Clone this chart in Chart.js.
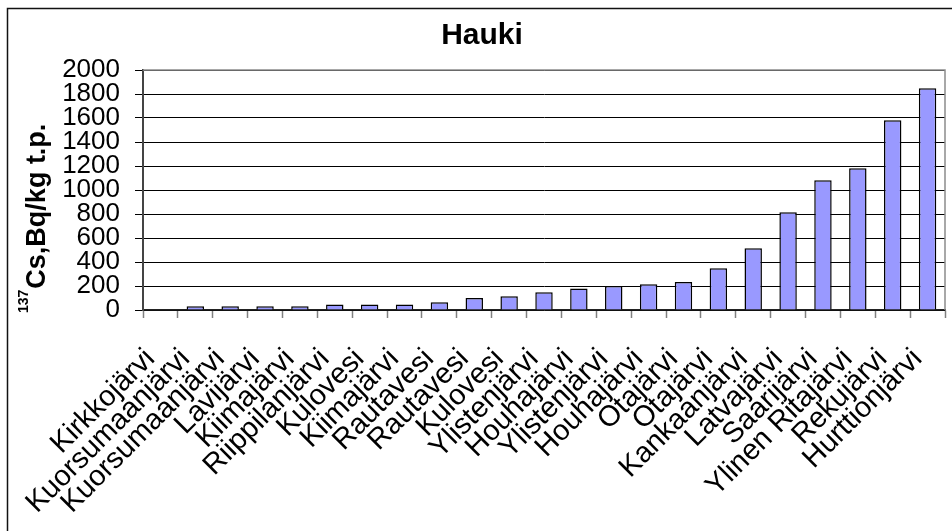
<!DOCTYPE html>
<html>
<head>
<meta charset="utf-8">
<title>Hauki</title>
<script src="https://cdn.jsdelivr.net/npm/chart.js@4/dist/chart.umd.min.js"></script>
<style>
  html, body { margin: 0; padding: 0; background: #fff; overflow: hidden; }
  canvas { display: block; }
</style>
</head>
<body>
<canvas id="haukiChart" width="952" height="531"></canvas>
<script>
// Lakes and 137Cs in pike (Bq/kg dry weight)
const lakes = [
  'Kirkkojärvi', 'Kuorsumaanjärvi', 'Kuorsumaanjärvi', 'Lavijärvi', 'Kiimajärvi',
  'Riippilanjärvi', 'Kulovesi', 'Kiimajärvi', 'Rautavesi', 'Rautavesi', 'Kulovesi',
  'Ylistenjärvi', 'Houhajärvi', 'Ylistenjärvi', 'Houhajärvi', 'Otajärvi', 'Otajärvi',
  'Kankaanjärvi', 'Latvajärvi', 'Saarijärvi', 'Ylinen Ritajärvi', 'Rekujärvi', 'Hurttionjärvi'
];
const cs137 = [
  0, 32, 32, 32, 32,
  45, 45, 45, 65, 100, 115,
  147, 180, 200, 214, 233, 347,
  514, 814, 1081, 1181, 1581, 1847
];
const yMin = 0;
const yMax = 2000;
const yStep = 200;

const FONT = "'Liberation Sans', Arial, sans-serif";

// outer frame + grey plot border
const framePlugin = {
  id: 'frame',
  beforeDatasetsDraw(chart) {
    const { ctx, chartArea: a } = chart;
    ctx.save();
    ctx.strokeStyle = '#8c8c8c';
    ctx.lineWidth = 1.5;
    ctx.beginPath();
    ctx.moveTo(a.left, a.top);
    ctx.lineTo(a.right, a.top);
    ctx.lineTo(a.right, a.bottom);
    ctx.stroke();
    ctx.restore();
  },
  afterDraw(chart) {
    const ctx = chart.ctx;
    ctx.save();
    ctx.strokeStyle = '#111';
    ctx.lineWidth = 1.5;
    ctx.beginPath();
    ctx.moveTo(7.5, chart.height);
    ctx.lineTo(7.5, 8.5);
    ctx.lineTo(chart.width, 8.5);
    ctx.stroke();
    ctx.restore();
  }
};

// y axis title with superscript mass number
const yTitlePlugin = {
  id: 'yTitle',
  afterDraw(chart) {
    const ctx = chart.ctx;
    const a = chart.chartArea;
    ctx.save();
    ctx.translate(a.left - 98, a.bottom + 3);
    ctx.rotate(-Math.PI / 2);
    ctx.fillStyle = '#000';
    ctx.textAlign = 'left';
    ctx.textBaseline = 'alphabetic';
    ctx.font = 'bold 14px ' + FONT;
    ctx.fillText('137', 0, -17);
    const w = ctx.measureText('137').width;
    ctx.font = 'bold 27px ' + FONT;
    ctx.fillText('Cs,Bq/kg t.p.', w + 1, 0);
    ctx.restore();
  }
};

new Chart(document.getElementById('haukiChart'), {
  type: 'bar',
  data: {
    labels: lakes,
    datasets: [{
      data: cs137,
      backgroundColor: '#9999ff',
      borderColor: '#000',
      borderWidth: 1.5,
      borderSkipped: 'start',
      barPercentage: 0.5,
      categoryPercentage: 1.0
    }]
  },
  options: {
    responsive: false,
    animation: false,
    layout: { padding: { left: 19, right: 7, top: 8, bottom: 0 } },
    plugins: {
      legend: { display: false },
      tooltip: { enabled: false },
      title: {
        display: true,
        text: 'Hauki',
        color: '#000',
        font: { family: FONT, size: 30, weight: 'bold' },
        padding: { top: 10, bottom: 16 }
      }
    },
    scales: {
      x: {
        offset: true,
        grid: {
          offset: true,
          drawOnChartArea: false,
          tickLength: 8,
          tickColor: '#808080',
          tickWidth: 1.5
        },
        border: { color: '#222', width: 1.5 },
        ticks: {
          autoSkip: false,
          minRotation: 45,
          maxRotation: 45,
          padding: 24,
          labelOffset: -10,
          color: '#000',
          font: { family: FONT, size: 29 }
        },
        afterFit(scale) {
          scale.height = 221;
          scale.paddingLeft = 0;
          scale.paddingRight = 0;
        }
      },
      y: {
        min: yMin,
        max: yMax,
        grid: {
          color: '#000',
          lineWidth: 1,
          tickLength: 8,
          tickColor: '#000'
        },
        border: { color: '#444', width: 2 },
        ticks: {
          stepSize: yStep,
          autoSkip: false,
          padding: 15,
          color: '#000',
          font: { family: FONT, size: 26 },
          callback: (v) => String(v)
        },
        afterFit(scale) {
          scale.width = 124;
          scale.paddingTop = 0;
          scale.paddingBottom = 0;
        }
      }
    }
  },
  plugins: [framePlugin, yTitlePlugin]
});
</script>
</body>
</html>
